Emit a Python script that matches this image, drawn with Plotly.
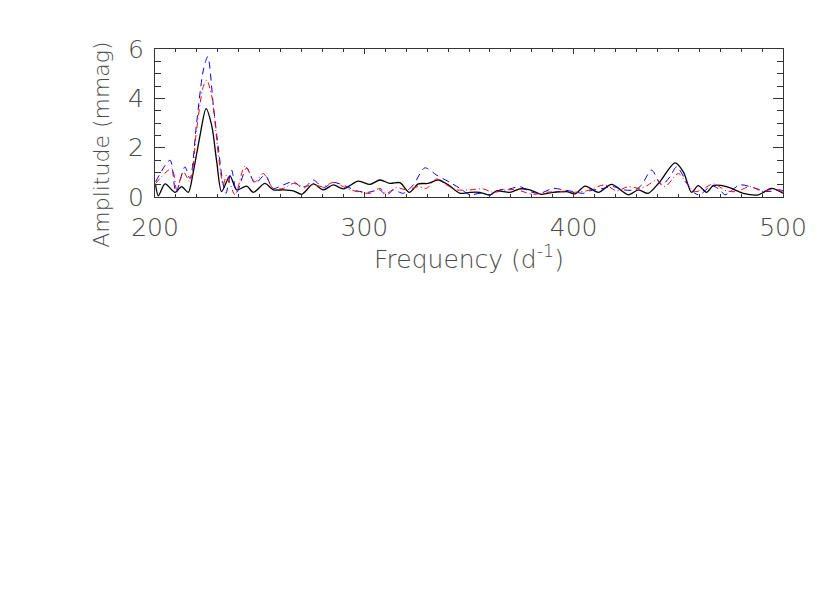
import plotly.graph_objects as go

# Black solid curve
black_freq = [200.3, 201.6, 204.8, 209.6, 212.7, 215.9, 218.3, 221.5, 224.4, 227.1, 229.5, 231.8,
              235.8, 239.0, 243.8, 247.0, 252.5, 256.5, 261.3, 266.1, 270.1, 275.6, 280.4, 285.2,
              290.0, 297.1, 302.7, 307.5, 312.2, 317.0, 321.5, 325.8, 330.5, 335.3, 340.1, 345.7,
              350.4, 355.2, 360.0, 363.2, 369.5, 374.3, 379.1, 384.7, 390.2, 396.6, 400.6, 405.5,
              411.8, 418.1, 426.1, 430.9, 435.6, 441.2, 448.4, 452.4, 456.3, 459.5, 463.5, 466.7,
              473.0, 481.0, 488.2, 494.5, 500.0]
black_amp = [0.48, 0.05, 0.53, 0.19, 0.42, 0.19, 1.02, 2.49, 3.58, 2.89, 1.42, 0.22,
             0.86, 0.29, 0.44, 0.19, 0.55, 0.29, 0.29, 0.25, 0.11, 0.53, 0.29, 0.49,
             0.33, 0.64, 0.51, 0.69, 0.55, 0.58, 0.19, 0.53, 0.55, 0.69, 0.49, 0.15,
             0.19, 0.19, 0.08, 0.25, 0.19, 0.33, 0.29, 0.11, 0.19, 0.22, 0.13, 0.44,
             0.19, 0.51, 0.09, 0.29, 0.15, 0.62, 1.38, 1.02, 0.19, 0.46, 0.19, 0.46,
             0.42, 0.15, 0.09, 0.35, 0.15]

# Blue dashed curve
blue_freq = [200.3, 207.2, 210.0, 214.3, 216.7, 219.9, 223.1, 225.2, 227.9, 230.3, 232.6, 233.9,
             236.6, 239.0, 243.8, 247.8, 252.5, 256.5, 261.3, 266.1, 270.9, 275.6, 280.4, 285.2,
             291.6, 296.4, 301.9, 307.4, 310.6, 313.8, 318.6, 323.4, 328.9, 334.5, 340.9, 345.7,
             350.4, 355.2, 360.0, 364.8, 369.5, 374.3, 379.1, 383.9, 390.2, 395.0, 399.8, 404.6,
             407.8, 414.1, 418.9, 423.7, 429.3, 432.5, 437.2, 442.0, 446.0, 449.2, 454.7, 457.9,
             460.3, 465.9, 469.9, 472.3, 479.4, 485.8, 492.2, 498.5, 500.0]
blue_amp = [0.62, 1.49, 0.19, 1.22, 0.75, 3.02, 5.15, 5.69, 3.69, 1.95, 0.49, 0.15,
            1.09, 0.19, 1.18, 0.55, 0.89, 0.35, 0.49, 0.62, 0.35, 0.69, 0.38, 0.59,
            0.42, 0.25, 0.19, 0.29, 0.06, 0.29, 0.15, 0.49, 1.18, 0.89, 0.59, 0.35,
            0.09, 0.15, 0.09, 0.29, 0.33, 0.42, 0.22, 0.15, 0.35, 0.29, 0.22, 0.15,
            0.25, 0.35, 0.42, 0.29, 0.29, 0.49, 1.09, 0.49, 0.82, 1.22, 0.49, 0.15,
            0.09, 0.46, 0.29, 0.09, 0.49, 0.38, 0.22, 0.29, 0.25]

# Red dash-dot curve
red_freq = [200.3, 208.0, 210.4, 213.5, 216.7, 219.9, 223.1, 224.7, 227.1, 230.3, 232.6, 234.2,
            238.2, 243.0, 247.8, 251.7, 256.5, 261.3, 266.1, 270.9, 275.6, 280.4, 285.2, 291.6,
            296.4, 302.7, 307.4, 310.6, 315.4, 320.2, 325.8, 329.7, 334.5, 339.3, 344.1, 350.4,
            356.8, 361.6, 367.9, 372.7, 380.7, 387.1, 393.4, 399.8, 406.2, 414.9, 420.5, 426.1,
            431.7, 435.6, 439.6, 443.6, 450.0, 453.9, 457.9, 461.1, 466.7, 473.0, 477.8, 484.2,
            490.6, 495.3, 500.0]
red_amp = [0.55, 1.15, 0.29, 1.02, 0.62, 2.75, 4.49, 4.73, 4.09, 1.69, 0.49, 0.89,
           0.09, 1.25, 0.62, 0.95, 0.35, 0.35, 0.55, 0.42, 0.49, 0.42, 0.59, 0.35,
           0.22, 0.15, 0.35, 0.15, 0.38, 0.29, 0.42, 0.35, 0.73, 0.49, 0.29, 0.29,
           0.33, 0.19, 0.29, 0.29, 0.11, 0.19, 0.22, 0.19, 0.25, 0.49, 0.25, 0.42,
           0.35, 0.49, 0.69, 0.42, 0.95, 0.55, 0.22, 0.29, 0.53, 0.25, 0.22, 0.42,
           0.22, 0.33, 0.19]

x_ticks = [200, 300, 400, 500]
y_ticks = [0, 2, 4, 6]

FONT = "DejaVu Sans"
TXT = "#4a4a4a"
W = 200

fig = go.Figure()
fig.add_trace(go.Scatter(x=black_freq, y=black_amp, mode="lines",
                         line=dict(color="black", width=1.3, shape="spline", smoothing=0.8)))
fig.add_trace(go.Scatter(x=blue_freq, y=blue_amp, mode="lines",
                         line=dict(color="#0000ff", width=1, dash="7px,5px", shape="spline", smoothing=0.8)))
fig.add_trace(go.Scatter(x=red_freq, y=red_amp, mode="lines",
                         line=dict(color="#ff0000", width=1, dash="6px,3px,1px,3px", shape="spline", smoothing=0.8)))

fig.update_layout(
    width=830, height=593,
    margin=dict(l=147, r=55, t=41, b=404),
    paper_bgcolor="white", plot_bgcolor="white",
    showlegend=False,
    font=dict(family=FONT, color=TXT, size=25, weight=W),
    xaxis=dict(range=[200, 500], tickvals=x_ticks, ticktext=[str(v) for v in x_ticks],
               ticks="inside", ticklen=5, tickwidth=1, tickcolor="#333",
               minor=dict(dtick=10, ticks="inside", ticklen=3, tickcolor="#333"),
               showline=True, linecolor="#333", linewidth=1, mirror="allticks",
               showgrid=False, zeroline=False, ticklabelstandoff=8,
               tickfont=dict(family=FONT, size=25, color=TXT, weight=W)),
    yaxis=dict(range=[0, 6], tickvals=y_ticks, ticktext=[str(v) for v in y_ticks],
               ticks="inside", ticklen=10, tickwidth=1, tickcolor="#333",
               minor=dict(dtick=0.5, ticks="inside", ticklen=6, tickcolor="#333"),
               showline=True, linecolor="#333", linewidth=1, mirror="allticks",
               showgrid=False, zeroline=False, ticklabelstandoff=5,
               tickfont=dict(family=FONT, size=25, color=TXT, weight=W)),
    annotations=[
        dict(text="Frequency (d<sup>-1</sup>)", xref="paper", yref="paper",
             x=0.5, y=-0.41, xanchor="center", yanchor="middle", showarrow=False,
             font=dict(family=FONT, size=25, color=TXT, weight=W)),
        dict(text="Amplitude (mmag)", xref="paper", yref="paper",
             x=-0.085, y=0.35, xanchor="center", yanchor="middle", showarrow=False,
             textangle=-90, font=dict(family=FONT, size=22, color=TXT, weight=W)),
    ],
)

fig.write_html("out.html")
